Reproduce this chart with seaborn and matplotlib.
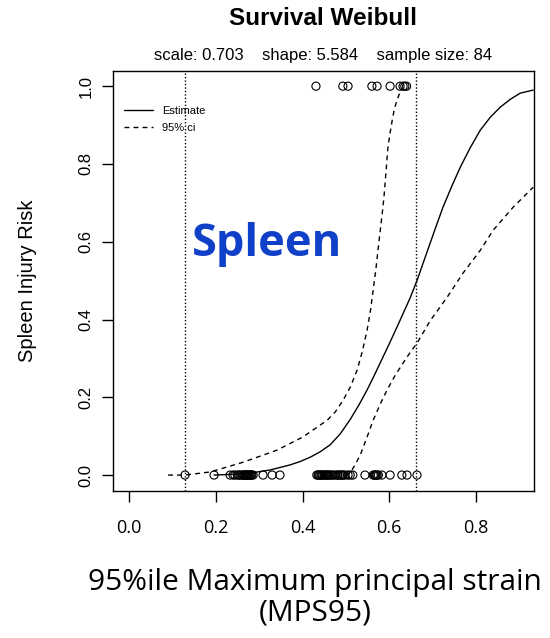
import numpy as np
import pandas as pd
import seaborn as sns
import matplotlib.pyplot as plt

sns.set_style('ticks')
plt.rcParams['font.family'] = ['Liberation Sans', 'DejaVu Sans']
plt.rcParams['text.color'] = 'black'
plt.rcParams['xtick.color'] = 'black'
plt.rcParams['ytick.color'] = 'black'
plt.rcParams['axes.labelcolor'] = 'black'

# observed cases, x = MPS95, injured (1) or not (0)
mps_uninjured = [0.129, 0.196, 0.233, 0.240, 0.244, 0.250, 0.253, 0.256, 0.260, 0.263,
                 0.265, 0.267, 0.269, 0.271, 0.273, 0.275, 0.277, 0.279, 0.281, 0.283,
                 0.286, 0.309, 0.330, 0.348,
                 0.433, 0.436, 0.438, 0.440, 0.443, 0.445, 0.447, 0.450, 0.453, 0.456,
                 0.458, 0.460, 0.463, 0.467, 0.470, 0.475, 0.480, 0.482, 0.486, 0.489,
                 0.491, 0.494, 0.498, 0.505, 0.510, 0.516,
                 0.544, 0.563, 0.566, 0.568, 0.570, 0.572, 0.575, 0.583, 0.602, 0.629,
                 0.641, 0.664]
mps_injured = [0.431, 0.493, 0.505, 0.560, 0.572, 0.602, 0.625, 0.632, 0.636, 0.640]

# fitted risk curve and confidence bounds
est_x = [0.196, 0.240, 0.279, 0.325, 0.371, 0.395, 0.418, 0.441, 0.464, 0.487, 0.510,
         0.530, 0.549, 0.565, 0.579, 0.602, 0.625, 0.648, 0.664, 0.687, 0.705, 0.724,
         0.744, 0.764, 0.787, 0.810, 0.833, 0.856, 0.879, 0.902, 0.932]
est_y = [0.000, 0.002, 0.005, 0.013, 0.026, 0.035, 0.046, 0.060, 0.078, 0.106, 0.143,
         0.180, 0.219, 0.255, 0.288, 0.342, 0.398, 0.455, 0.500, 0.573, 0.630, 0.689,
         0.742, 0.792, 0.842, 0.887, 0.920, 0.946, 0.966, 0.982, 0.990]
upper_x = [0.090, 0.129, 0.187, 0.263, 0.341, 0.401, 0.457, 0.476, 0.494, 0.511, 0.526,
           0.538, 0.549, 0.557, 0.563, 0.569, 0.574, 0.579, 0.584, 0.588, 0.591, 0.594,
           0.597, 0.602, 0.607, 0.612, 0.618, 0.624, 0.630]
upper_y = [0.000, 0.000, 0.008, 0.033, 0.064, 0.098, 0.141, 0.163, 0.193, 0.228, 0.270,
           0.318, 0.373, 0.425, 0.476, 0.527, 0.578, 0.626, 0.674, 0.716, 0.758, 0.800,
           0.843, 0.880, 0.913, 0.942, 0.964, 0.982, 0.995]
lower_x = [0.498, 0.507, 0.514, 0.523, 0.533, 0.548, 0.563, 0.579, 0.595, 0.613, 0.632,
           0.648, 0.664, 0.694, 0.734, 0.770, 0.810, 0.840, 0.886, 0.932]
lower_y = [0.000, 0.004, 0.013, 0.030, 0.051, 0.095, 0.141, 0.182, 0.219, 0.255, 0.288,
           0.315, 0.339, 0.396, 0.458, 0.519, 0.578, 0.630, 0.689, 0.740]

cut_lines = [0.129, 0.662]
x_ticks = [0.0, 0.2, 0.4, 0.6, 0.8]
y_ticks = [0.0, 0.2, 0.4, 0.6, 0.8, 1.0]

pts = pd.DataFrame({'mps': mps_uninjured + mps_injured,
                    'risk': [0] * len(mps_uninjured) + [1] * len(mps_injured)})

fig = plt.figure(figsize=(5.5, 6.38), dpi=100)
ax = fig.add_axes([0.2055, 0.2304, 0.7655, 0.6583])

sns.scatterplot(data=pts, x='mps', y='risk', ax=ax, marker='o', s=34,
                facecolor='none', edgecolor='black', linewidth=0.8, legend=False)
sns.lineplot(x=est_x, y=est_y, ax=ax, color='black', lw=1, sort=False,
             estimator=None, label='Estimate')
sns.lineplot(x=upper_x, y=upper_y, ax=ax, color='black', lw=1, sort=False,
             estimator=None, label='95% ci')
sns.lineplot(x=lower_x, y=lower_y, ax=ax, color='black', lw=1, sort=False,
             estimator=None)
ax.lines[1].set_dashes((3.5, 3))
ax.lines[2].set_dashes((3.5, 3))

for c in cut_lines:
    ax.axvline(c, color='black', lw=1, ls=(0, (1, 1.5)))

ax.set_xlim(-0.037, 0.934)
ax.set_ylim(-0.041, 1.039)
for s in ax.spines.values():
    s.set_visible(True)
    s.set_linewidth(1)
    s.set_color('black')

ax.set_xticks(x_ticks)
ax.set_xticklabels([f'{t:.1f}' for t in x_ticks], fontfamily='Open Sans', fontsize=13)
ax.tick_params(axis='x', length=8, width=1, pad=12)
ax.set_yticks(y_ticks)
ax.set_yticklabels([f'{t:.1f}' for t in y_ticks], rotation=90, va='center', fontsize=12)
ax.tick_params(axis='y', length=8, width=1, pad=6)
ax.set_xlabel('')
ax.set_ylabel('Spleen Injury Risk', fontsize=14.5, labelpad=30)

leg = ax.legend(loc='upper left', bbox_to_anchor=(0.003, 0.94), frameon=False,
                fontsize=8, handlelength=2.6, handletextpad=0.8, labelspacing=0.6)
for h in leg.get_lines():
    h.set_color('black')
leg.get_lines()[1].set_dashes((3.5, 3))

ax.text(0.188, 0.588, 'Spleen', transform=ax.transAxes, color='#1040c8',
        fontsize=32.5, fontweight='bold', fontfamily='Open Sans', ha='left', va='center')

fig.text(0.587, 0.971, 'Survival Weibull', ha='center', va='center',
         fontsize=17.5, fontweight='bold')
fig.text(0.587, 0.913, 'scale: 0.703    shape: 5.584    sample size: 84',
         ha='center', va='center', fontsize=12)
fig.text(0.573, 0.0627, '95%ile Maximum principal strain\n(MPS95)', ha='center',
         va='center', fontsize=21.5, fontfamily='Open Sans', linespacing=1.08)

fig.savefig('out.png', dpi=100)
